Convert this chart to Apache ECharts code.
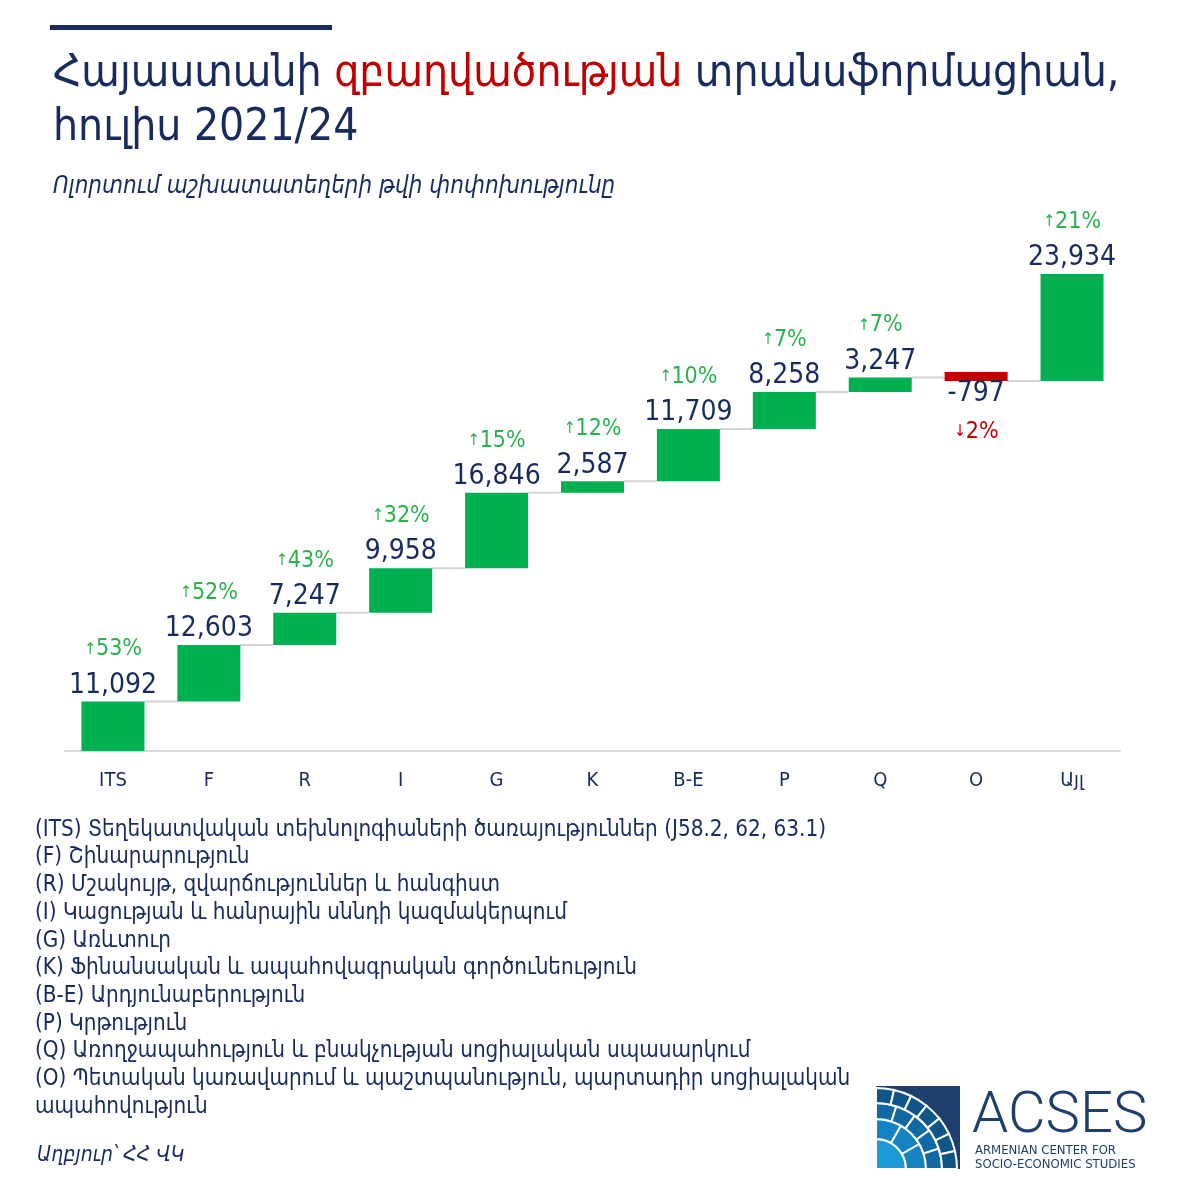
<!DOCTYPE html>
<html>
<head>
<meta charset="utf-8">
<script src="https://cdn.jsdelivr.net/npm/echarts@6/dist/echarts.min.js"></script>
<style>
  html, body { margin: 0; padding: 0; background: #fff; }
  .demo { width: 1200px; height: 1200px; }
</style>
</head>
<body>
<div class="demo"></div>
<script>
// sectors, change in jobs July 2021 -> July 2024
const categories = ['ITS', 'F', 'R', 'I', 'G', 'K', 'B-E', 'P', 'Q', 'O', 'Այլ']
const changes = [11092, 12603, 7247, 9958, 16846, 2587, 11709, 8258, 3247, -797, 23934]
const growthPct = [53, 52, 43, 32, 15, 12, 10, 7, 7, -2, 21]

const notes = [
  '(ITS) Տեղեկատվական տեխնոլոգիաների ծառայություններ (J58.2, 62, 63.1)',
  '(F) Շինարարություն',
  '(R) Մշակույթ, զվարճություններ և հանգիստ',
  '(I) Կացության և հանրային սննդի կազմակերպում',
  '(G) Առևտուր',
  '(K) Ֆինանսական և ապահովագրական գործունեություն',
  '(B-E) Արդյունաբերություն',
  '(P) Կրթություն',
  '(Q) Առողջապահություն և բնակչության սոցիալական սպասարկում',
  '(O) Պետական կառավարում և պաշտպանություն, պարտադիր սոցիալական',
  'ապահովություն'
]

;(function(){
  const NAVY = '#182b5e'
  const GREEN = '#00b050'
  const RED = '#c00000'
  const ARM = "'DejaVu Sans Condensed', 'DejaVu Sans', sans-serif"
  const NUM = "'DejaVu Sans Condensed', 'DejaVu Sans', sans-serif"

  // running totals for the waterfall
  const baseData = []
  const endLevels = []
  let run = 0
  changes.forEach(v => {
    const next = run + v
    baseData.push(Math.min(run, next))
    endLevels.push(next)
    run = next
  })

  const fmt = n => Math.abs(n).toLocaleString('en-US')

  const valueData = changes.map((v, i) => {
    const up = v >= 0
    const pct = growthPct[i]
    return {
      value: Math.abs(v),
      itemStyle: { color: up ? GREEN : RED },
      label: up ? {
        position: 'top',
        distance: 0,
        formatter: '{a|↑}{p|' + Math.abs(pct) + '%}\n{v|' + fmt(v) + '}'
      } : {
        position: 'bottom',
        distance: 0,
        formatter: '{v2|-' + fmt(v) + '}\n{a2|↓}{p2|' + Math.abs(pct) + '%}'
      }
    }
  })

  const connectorData = endLevels.slice(0, -1).map((lv, i) => [i, lv])

  const chartinstance = echarts.init(document.querySelector('.demo'))

  const noteItems = notes.map((t, i) => ({
    type: 'text',
    left: 35,
    top: 819 + i * 27.7,
    style: { text: t, fill: NAVY, fontSize: 22.3, fontFamily: ARM }
  }))

  const option = {
    backgroundColor: '#fff',
    animation: false,
    title: [
      {
        left: 48,
        top: 43,
        text: '{n|Հայաստանի }{r|զբաղվածության}{n| տրանսֆորմացիան,}\n{n|հուլիս 2021/24}',
        textStyle: {
          fontWeight: 'normal',
          rich: {
            n: { fontSize: 44, color: NAVY, fontFamily: ARM, fontWeight: 'normal', lineHeight: 54 },
            r: { fontSize: 44, color: RED, fontFamily: ARM, fontWeight: 'normal', lineHeight: 54 }
          }
        }
      },
      {
        left: 48,
        top: 170,
        text: 'Ոլորտում աշխատատեղերի թվի փոփոխությունը',
        textStyle: { fontSize: 24, fontStyle: 'italic', fontWeight: 'normal', color: NAVY, fontFamily: ARM }
      }
    ],
    grid: { left: 65, right: 80, top: 214.5, bottom: 449, containLabel: false },
    xAxis: {
      type: 'category',
      data: categories,
      axisLine: { lineStyle: { color: '#d9d9d9', width: 2 } },
      axisTick: { show: false },
      axisLabel: { color: NAVY, fontSize: 20, fontFamily: NUM, margin: 20 }
    },
    yAxis: {
      type: 'value',
      min: 0,
      max: 120000,
      show: false,
      splitLine: { show: false }
    },
    series: [
      {
        type: 'custom',
        name: 'connector',
        z: 1,
        data: connectorData,
        renderItem: function (params, api) {
          const p1 = api.coord([api.value(0), api.value(1)])
          const p2 = api.coord([api.value(0) + 1, api.value(1)])
          const half = 63 / 2
          return {
            type: 'line',
            shape: { x1: p1[0] + half, y1: p1[1], x2: p2[0] - half, y2: p2[1] },
            style: { stroke: '#d4d4d4', lineWidth: 2 }
          }
        }
      },
      {
        type: 'bar',
        name: 'base',
        stack: 'wf',
        barWidth: 63,
        itemStyle: { color: 'transparent' },
        data: baseData,
        z: 2
      },
      {
        type: 'bar',
        name: 'change',
        stack: 'wf',
        barWidth: 63,
        barMinHeight: 9,
        data: valueData,
        z: 3,
        label: {
          show: true,
          rich: {
            a: { fontSize: 16, color: '#2ab24d', fontFamily: NUM, lineHeight: 40 },
            p: { fontSize: 23, color: '#2ab24d', fontFamily: NUM, lineHeight: 40 },
            v: { fontSize: 28, color: NAVY, fontFamily: NUM, lineHeight: 32 },
            v2: { fontSize: 28, color: NAVY, fontFamily: NUM, lineHeight: 26 },
            a2: { fontSize: 16, color: RED, fontFamily: NUM, lineHeight: 50 },
            p2: { fontSize: 23, color: RED, fontFamily: NUM, lineHeight: 50 }
          }
        }
      }
    ],
    graphic: [
      { type: 'rect', shape: { x: 50, y: 25, width: 282, height: 5 }, style: { fill: NAVY } },
      ...noteItems,
      {
        type: 'text',
        left: 37,
        top: 1145,
        style: { text: 'Աղբյուր՝ ՀՀ ՎԿ', fill: NAVY, fontSize: 21, fontStyle: 'italic', fontFamily: ARM }
      },
      // logo
      {
        type: 'group',
        left: 875,
        top: 1086,
        children: [
          { type: 'rect', shape: { x: 0, y: 0, width: 84, height: 83 }, style: { fill: '#1d3f6e' } },
          { type: 'sector', shape: { cx: 0, cy: 83, r0: 0, r: 30, startAngle: -Math.PI / 2, endAngle: 0 }, style: { fill: '#1b9ad6', stroke: '#fff', lineWidth: 2 } },
          ...[0, 1, 2].map(k => ({ type: 'sector', shape: { cx: 0, cy: 83, r0: 30, r: 50, startAngle: -Math.PI / 2 + k * Math.PI / 6, endAngle: -Math.PI / 2 + (k + 1) * Math.PI / 6 }, style: { fill: '#1583c1', stroke: '#fff', lineWidth: 2 } })),
          ...[0, 1, 2, 3, 4].map(k => ({ type: 'sector', shape: { cx: 0, cy: 83, r0: 50, r: 66, startAngle: -Math.PI / 2 + k * Math.PI / 10, endAngle: -Math.PI / 2 + (k + 1) * Math.PI / 10 }, style: { fill: '#1169a3', stroke: '#fff', lineWidth: 2 } })),
          ...[0, 1, 2, 3, 4, 5, 6].map(k => ({ type: 'sector', shape: { cx: 0, cy: 83, r0: 66, r: 81, startAngle: -Math.PI / 2 + k * Math.PI / 14, endAngle: -Math.PI / 2 + (k + 1) * Math.PI / 14 }, style: { fill: '#0f5588', stroke: '#fff', lineWidth: 2 } }))
        ]
      },
      {
        type: 'text',
        left: 972,
        top: 1088,
        style: { text: 'ACSES', fill: '#1d3f6e', fontSize: 58, fontWeight: 300, fontFamily: 'Roboto, Lato, sans-serif' }
      },
      {
        type: 'text',
        left: 975,
        top: 1144,
        style: { text: 'ARMENIAN CENTER FOR\nSOCIO-ECONOMIC STUDIES', fill: '#1d3f6e', fontSize: 13, lineHeight: 14, fontFamily: "'DejaVu Sans Condensed', sans-serif" }
      }
    ]
  }

  option && chartinstance.setOption(option)
  window.addEventListener('resize', () => {
    chartinstance.resize()
  })
})();
</script>
</body>
</html>
